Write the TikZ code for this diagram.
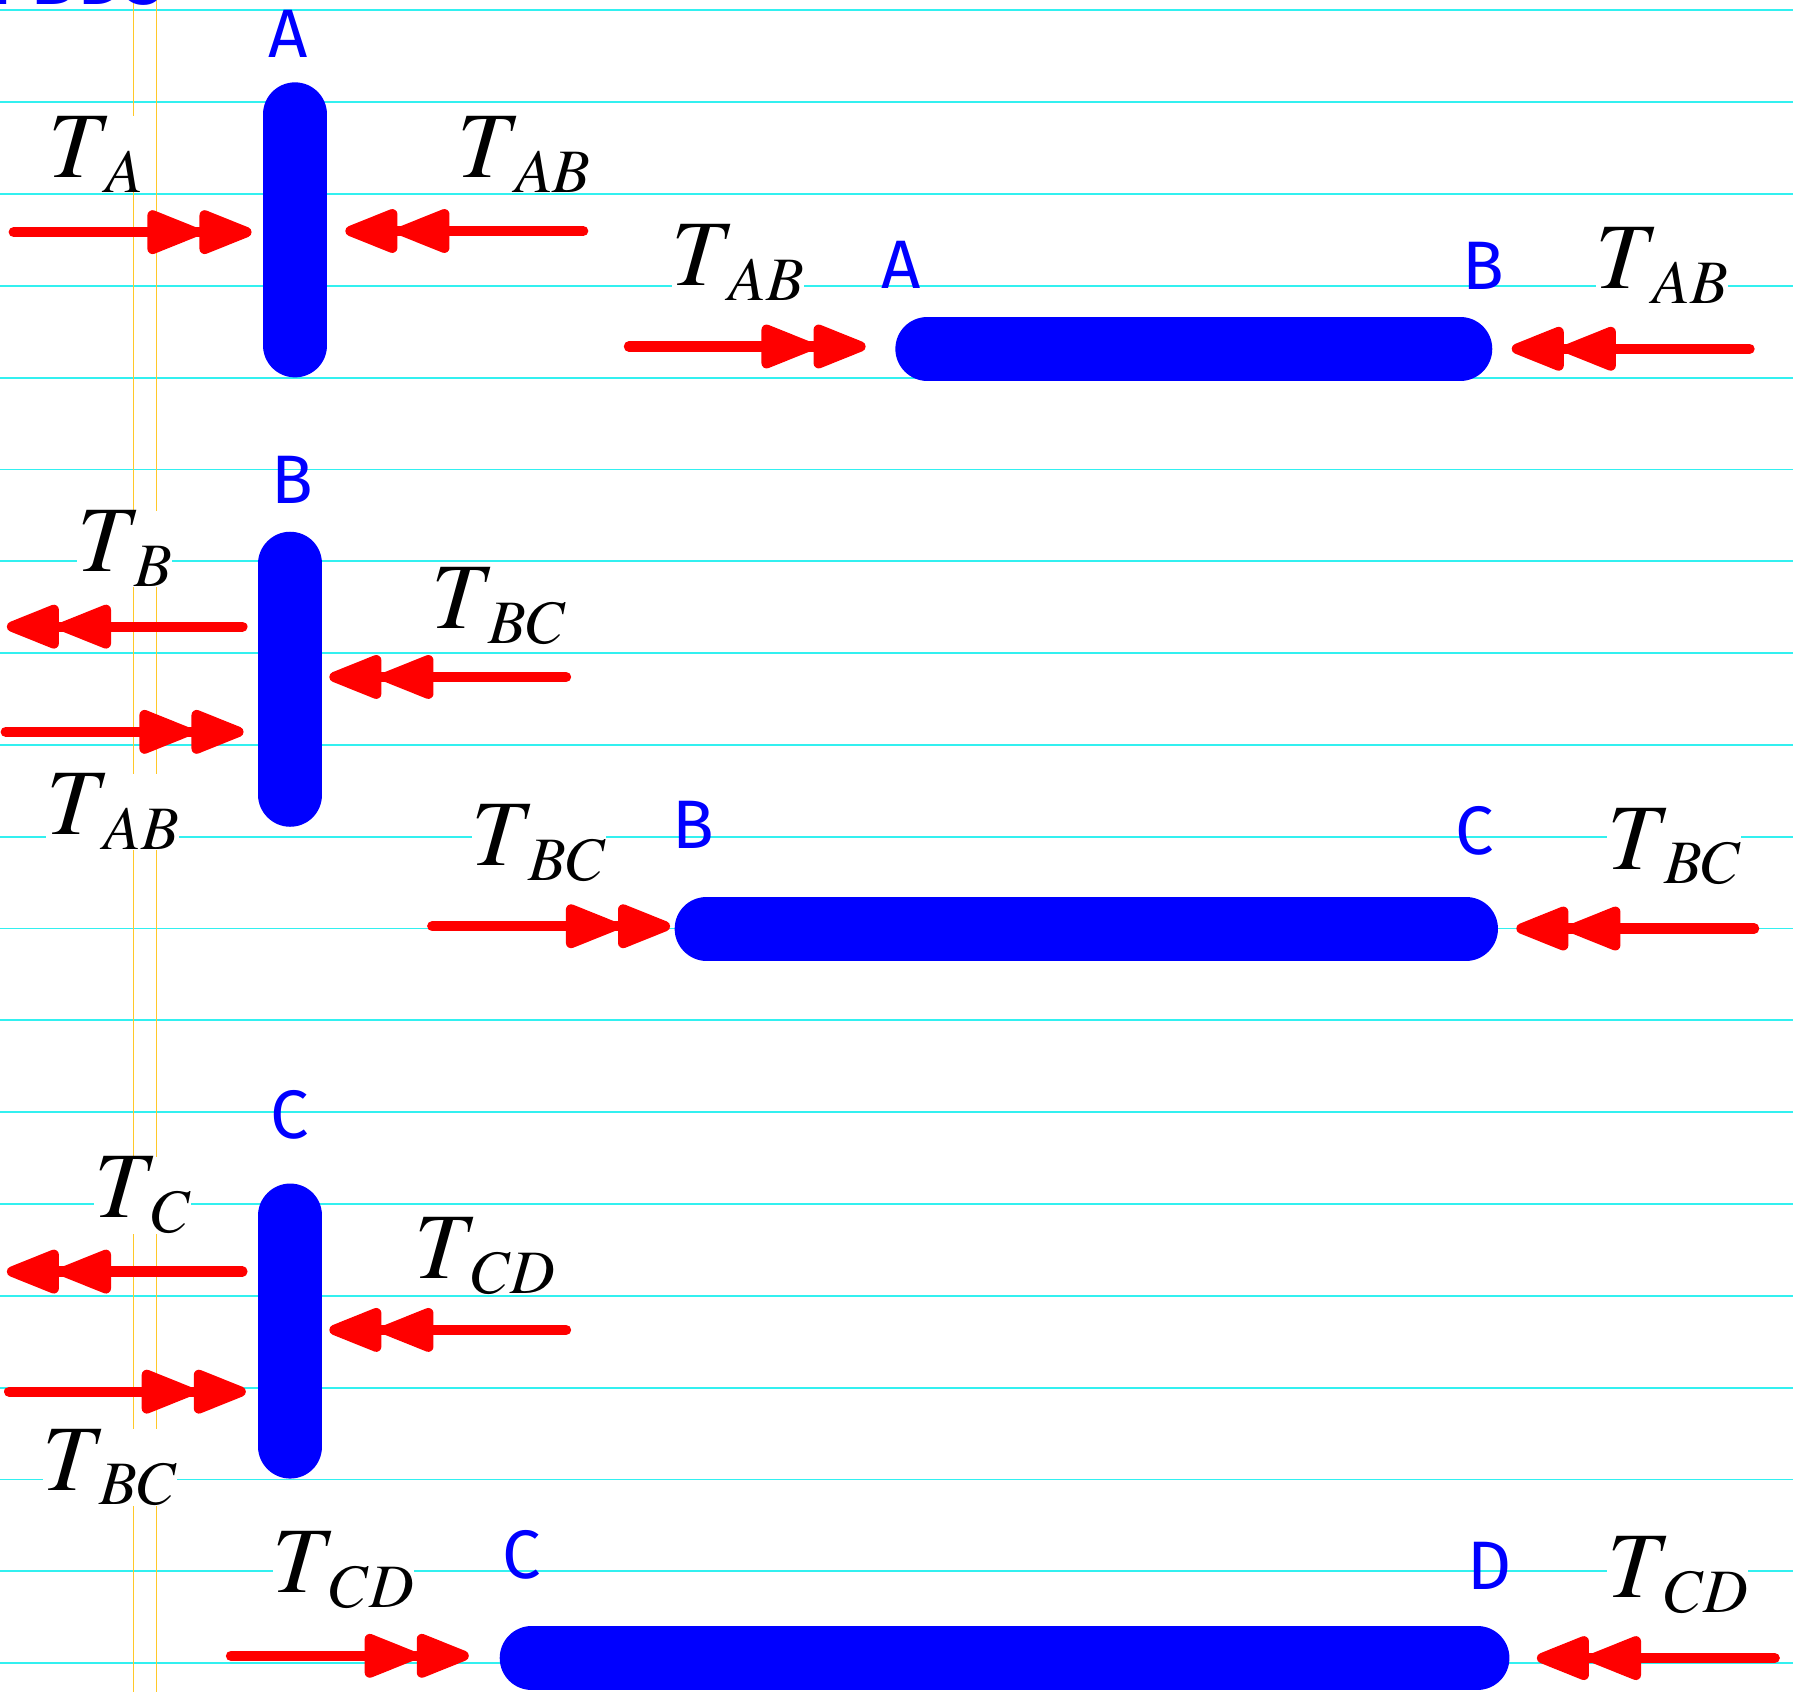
\documentclass[tikz,border=0pt]{standalone}
\usepackage[no-math]{fontspec}
\usepackage{mathptmx}
\newfontfamily\handfont{Fira Sans}
\usetikzlibrary{arrows.meta}
\definecolor{ruleCyan}{RGB}{50,240,240}
\definecolor{ruleOrange}{RGB}{255,200,40}
\definecolor{barBlue}{RGB}{0,0,255}
\definecolor{arrRed}{RGB}{255,0,0}
\newcommand\Tlab[1]{$T$\kern-3pt\raisebox{-6.5pt}{\fontsize{27}{30}\selectfont$#1$}}
\tikzset{
  rule/.style={ruleCyan, line width=0.8pt},
  margin/.style={ruleOrange, line width=0.6pt},
  bar/.style={barBlue, line width=28pt, line cap=round},
  force/.style={arrRed, line width=4.5pt, line cap=round,
    -{Triangle[round,length=27pt,width=20pt,sep=0pt]Triangle[round,length=27pt,width=20pt]}},
  tlabel/.style={fill=white, inner sep=0pt, anchor=base west, font=\fontsize{41}{44}\selectfont},
  ptlabel/.style={text=barBlue, inner sep=0pt, anchor=base, font=\handfont\fontsize{30}{34}\selectfont},
}
\begin{document}
\begin{tikzpicture}[x=0.5pt,y=-0.5pt]
\useasboundingbox (0,0) rectangle (1568,1480);
\clip (0,0) rectangle (1568,1480);
% ruled paper
\foreach \n in {0,...,18} \draw[rule] (0,{9+80.3*\n}) -- (1568,{9+80.3*\n});
\draw[margin] (117,0) -- (117,1480);
\draw[margin] (137,0) -- (137,1480);
% cut-off title
\node[ptlabel, anchor=base west, font=\handfont\fontsize{34}{38}\selectfont] (title) at (-8,4) {FBDs};
% point labels
\node[ptlabel] (pA1) at (252,50) {A};
\node[ptlabel] (pA2) at (788,252) {A};
\node[ptlabel] (pB2) at (1297,253) {B};
\node[ptlabel] (pB1) at (256,440) {B};
\node[ptlabel] (pB3) at (606,742) {B};
\node[ptlabel] (pC3) at (1290,747) {C};
\node[ptlabel] (pC1) at (253,996) {C};
\node[ptlabel] (pC4) at (456,1380) {C};
\node[ptlabel] (pD) at (1303,1390) {D};
% force labels
\node[tlabel] (lA) at (42,155) {\Tlab{A}};
\node[tlabel] (lAB1) at (400,155) {\Tlab{AB}};
\node[tlabel] (lAB2) at (587,250) {\Tlab{AB}};
\node[tlabel] (lAB3) at (1395,252) {\Tlab{AB}};
\node[tlabel] (lB) at (67,500) {\Tlab{B}};
\node[tlabel] (lBC1) at (377,550) {\Tlab{BC}};
\node[tlabel] (lAB4) at (40,730) {\Tlab{AB}};
\node[tlabel] (lBC2) at (412,757) {\Tlab{BC}};
\node[tlabel] (lBC3) at (1405,760) {\Tlab{BC}};
\node[tlabel] (lC) at (82,1065) {\Tlab{C}};
\node[tlabel] (lCD1) at (362,1118) {\Tlab{CD}};
\node[tlabel] (lBC4) at (37,1303) {\Tlab{BC}};
\node[tlabel] (lCD2) at (238,1393) {\Tlab{CD}};
\node[tlabel] (lCD3) at (1405,1397) {\Tlab{CD}};
% bars
\coordinate (barA1) at (258,100);  \coordinate (barA2) at (258,302);
\coordinate (barAB1) at (811,305); \coordinate (barAB2) at (1277,305);
\coordinate (barB1) at (254,493);  \coordinate (barB2) at (254,695);
\coordinate (barBC1) at (618,812); \coordinate (barBC2) at (1282,812);
\coordinate (barC1) at (254,1063); \coordinate (barC2) at (254,1265);
\coordinate (barCD1) at (465,1450); \coordinate (barCD2) at (1292,1450);
\draw[bar] (barA1) -- (barA2);
\draw[bar] (barAB1) -- (barAB2);
\draw[bar] (barB1) -- (barB2);
\draw[bar] (barBC1) -- (barBC2);
\draw[bar] (barC1) -- (barC2);
\draw[bar] (barCD1) -- (barCD2);
% force arrows
\coordinate (f1s) at (12,203);   \coordinate (f1e) at (220,203);
\coordinate (f2s) at (510,202);  \coordinate (f2e) at (302,202);
\coordinate (f3s) at (550,303);  \coordinate (f3e) at (757,303);
\coordinate (f4s) at (1530,305); \coordinate (f4e) at (1322,305);
\coordinate (f5s) at (212,548);  \coordinate (f5e) at (6,548);
\coordinate (f6s) at (495,592);  \coordinate (f6e) at (288,592);
\coordinate (f7s) at (5,640);    \coordinate (f7e) at (213,640);
\coordinate (f8s) at (378,810);  \coordinate (f8e) at (586,810);
\coordinate (f9s) at (1534,812); \coordinate (f9e) at (1326,812);
\coordinate (f10s) at (212,1112); \coordinate (f10e) at (6,1112);
\coordinate (f11s) at (495,1163); \coordinate (f11e) at (288,1163);
\coordinate (f12s) at (8,1217);   \coordinate (f12e) at (215,1217);
\coordinate (f13s) at (202,1448); \coordinate (f13e) at (410,1448);
\coordinate (f14s) at (1552,1450); \coordinate (f14e) at (1344,1450);
\foreach \i in {1,...,14} \draw[force] (f\i s) -- (f\i e);
\end{tikzpicture}
\end{document}
